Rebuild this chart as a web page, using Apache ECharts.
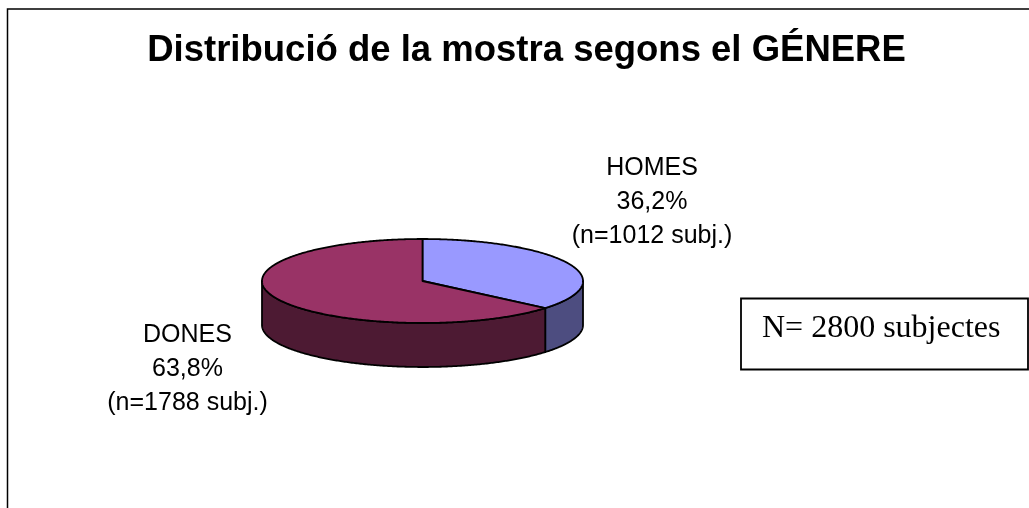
<!DOCTYPE html>
<html>
<head>
<meta charset="utf-8">
<title>Distribució de la mostra</title>
<style>
  html, body { margin: 0; padding: 0; background: #ffffff; }
  #chart { width: 1029px; height: 508px; }
</style>
<script src="https://cdn.jsdelivr.net/npm/echarts@6/dist/echarts.min.js"></script>
</head>
<body>
<div id="chart"></div>
<script>
var categories = ['HOMES', 'DONES']
var subjects = [1012, 1788]
var percents = ['36,2%', '63,8%']
var topColors = ['#9999FF', '#993366']
var sideColors = ['#4D4D80', '#4D1A33']

var total = subjects[0] + subjects[1]

// tilted pie geometry, angles run clockwise from 12 o'clock
var cx = 422.5
var cy = 281
var rx = 160.5
var ry = 42
var depth = 44

function pointAt(angle, drop) {
  return [cx + rx * Math.sin(angle), cy - ry * Math.cos(angle) + (drop || 0)]
}

function arcPoints(from, to, drop) {
  var pts = []
  var steps = Math.max(2, Math.ceil((to - from) / 0.01))
  for (var i = 0; i <= steps; i++) {
    pts.push(pointAt(from + (to - from) * i / steps, drop))
  }
  return pts
}

function sliceRange(index) {
  var before = 0
  for (var i = 0; i < index; i++) before += subjects[i]
  return [before / total * Math.PI * 2, (before + subjects[index]) / total * Math.PI * 2]
}

function renderSlice(params, api) {
  var index = api.value(0)
  var range = sliceRange(index)
  var children = []
  // only the part of the rim facing the viewer gets a wall
  var wallFrom = Math.max(range[0], Math.PI / 2)
  var wallTo = Math.min(range[1], Math.PI * 1.5)
  var lineStyle = { stroke: '#000000', lineWidth: 1.8, lineJoin: 'round' }
  if (wallTo > wallFrom) {
    var wall = arcPoints(wallFrom, wallTo, 0).concat(arcPoints(wallFrom, wallTo, depth).reverse())
    children.push({
      type: 'polygon',
      shape: { points: wall },
      style: Object.assign({ fill: sideColors[index] }, lineStyle)
    })
  }
  var top = [[cx, cy]].concat(arcPoints(range[0], range[1], 0))
  children.push({
    type: 'polygon',
    z2: 2,
    shape: { points: top },
    style: Object.assign({ fill: topColors[index] }, lineStyle)
  })
  return { type: 'group', children: children }
}

function labelLines(i) {
  return categories[i] + '\n' + percents[i] + '\n(n=' + subjects[i] + ' subj.)'
}

var labelStyle = {
  fontFamily: 'Liberation Sans',
  fontSize: 25,
  lineHeight: 34,
  fill: '#000000',
  align: 'center',
  verticalAlign: 'middle'
}

var myChart = echarts.init(document.getElementById('chart'), null, { renderer: 'canvas' })
var option = {
  animation: false,
  backgroundColor: '#ffffff',
  title: {
    text: 'Distribució de la mostra segons el GÉNERE',
    left: 526.5,
    top: 32,
    padding: 0,
    textAlign: 'center',
    textStyle: {
      fontFamily: 'Liberation Sans',
      fontSize: 36.5,
      fontWeight: 'bold',
      color: '#000000'
    }
  },
  xAxis: { show: false },
  yAxis: { show: false },
  series: [
    {
      type: 'custom',
      coordinateSystem: 'none',
      renderItem: renderSlice,
      encode: { value: 0 },
      data: categories.map(function(name, i) {
        return { name: name, value: [i, subjects[i]] }
      })
    }
  ],
  graphic: [
    {
      type: 'polyline',
      shape: { points: [[7.5, 520], [7.5, 9], [1040, 9]] },
      style: { stroke: '#000000', lineWidth: 1.5, fill: null }
    },
    {
      type: 'rect',
      shape: { x: 741, y: 298.5, width: 287, height: 71 },
      style: { stroke: '#000000', lineWidth: 1.8, fill: '#ffffff' }
    },
    {
      type: 'text',
      x: 762,
      y: 329,
      style: {
        text: 'N= 2800 subjectes',
        fontFamily: 'Liberation Serif',
        fontSize: 32,
        fill: '#000000',
        align: 'left',
        verticalAlign: 'middle'
      }
    },
    {
      type: 'text',
      x: 652,
      y: 202,
      style: Object.assign({ text: labelLines(0) }, labelStyle)
    },
    {
      type: 'text',
      x: 187.5,
      y: 369.5,
      style: Object.assign({ text: labelLines(1) }, labelStyle)
    }
  ]
}
myChart.setOption(option, true)
</script>
</body>
</html>
